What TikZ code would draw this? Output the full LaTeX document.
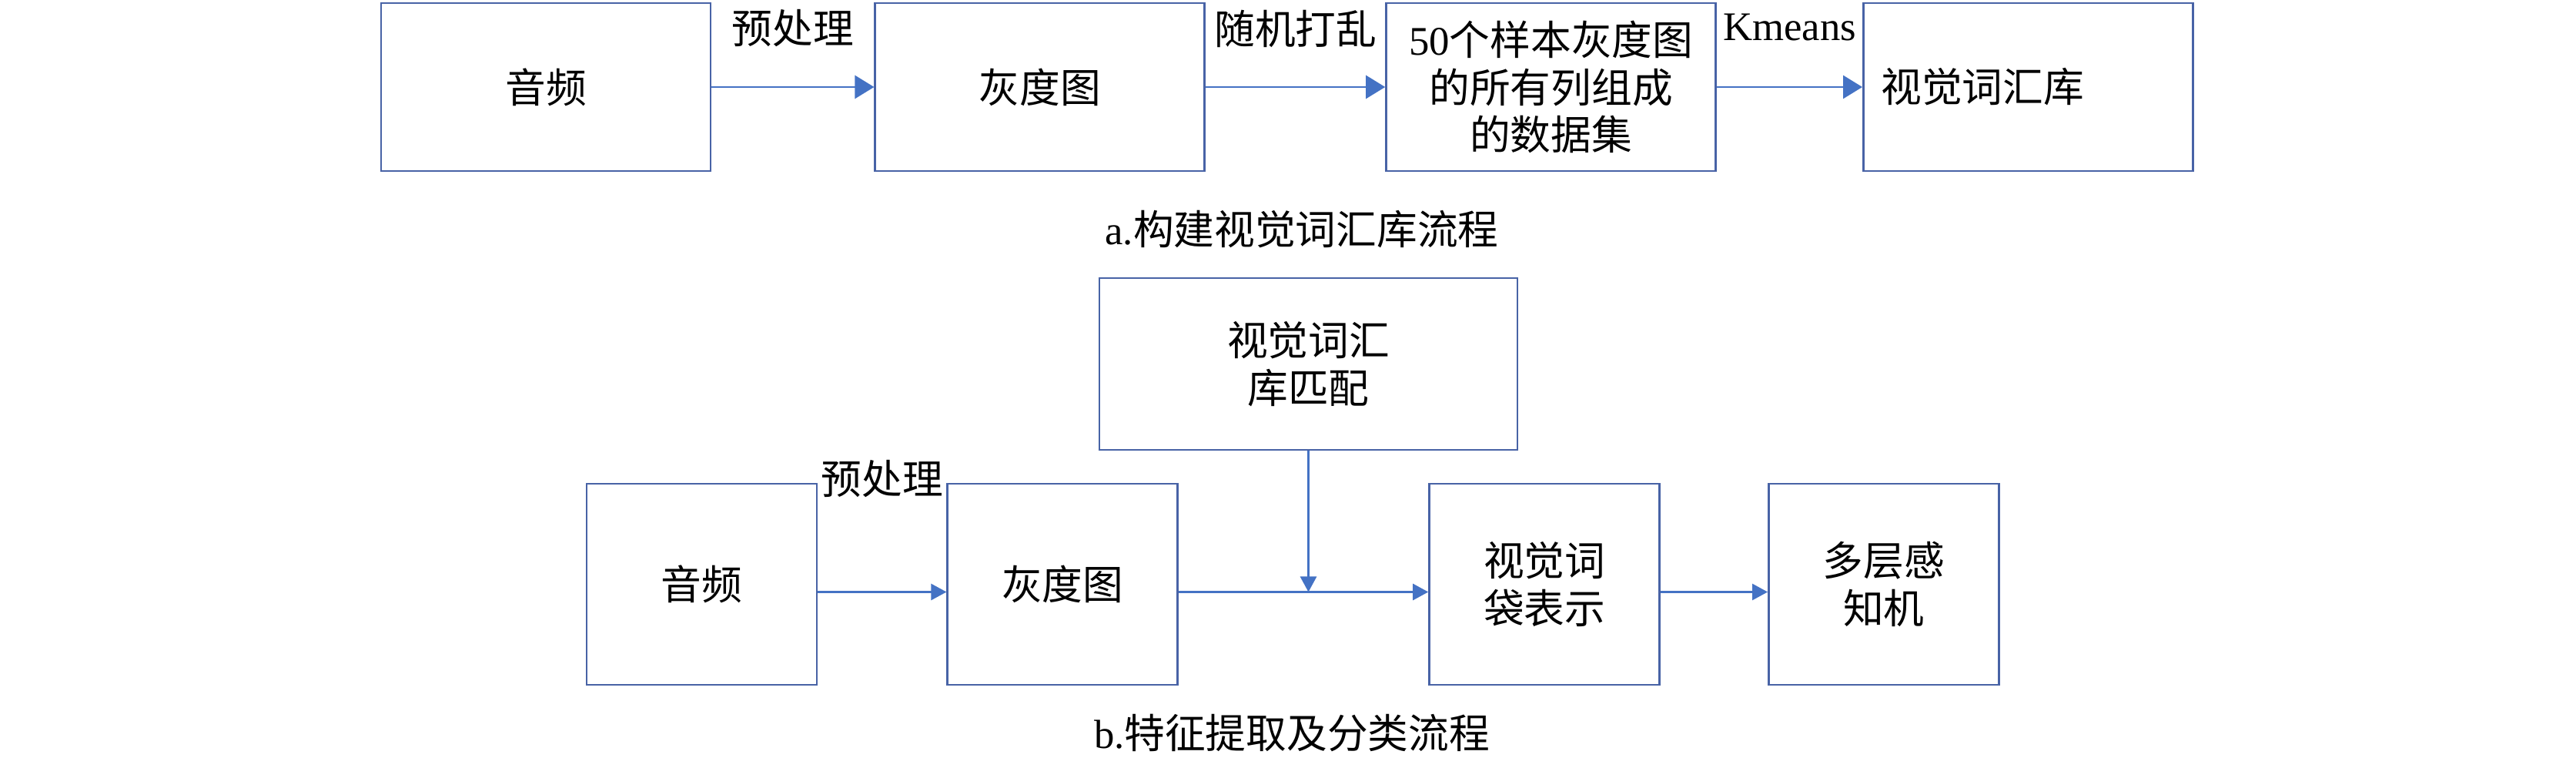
\documentclass[tikz,border=0pt]{standalone}
\usepackage{fontspec}
\setmainfont{Noto Sans CJK SC}
\newfontfamily\latin{Liberation Serif}
\usetikzlibrary{positioning,arrows.meta}
\definecolor{boxblue}{RGB}{72,99,166}
\definecolor{lineblue}{RGB}{68,114,196}
\newcommand{\figfont}{\fontsize{15}{17.6}\selectfont}

\begin{document}
\begin{tikzpicture}[node distance=2cm]
    \tikzset{
        blocka/.style = {rectangle, draw=boxblue, line width=0.8pt, minimum width=4.28cm, minimum height=2.18cm,
                         inner sep=0pt, align=center, font=\figfont},
        blockb/.style = {rectangle, draw=boxblue, line width=0.8pt, minimum width=2.99cm, minimum height=2.61cm,
                         inner sep=0pt, align=center, font=\figfont},
        bigarrow/.style = {draw=lineblue, line width=0.75pt, -{Triangle[length=0.25cm, width=0.3cm]}},
        arrow/.style = {draw=lineblue, line width=0.75pt, -{Triangle[length=0.2cm, width=0.21cm]}},
        lbl/.style = {inner sep=0pt, font=\figfont}
    }
    \useasboundingbox (0,0) rectangle (33.46,-9.97);

    % a. building the vocabulary
    \node (audioa) [blocka] at (7.09,-1.13) {音频};
    \node (graya) [blocka, right=2.11cm of audioa] {灰度图};
    \node (data) [blocka, right=2.33cm of graya] {{\latin 50}个样本灰度图\\的所有列组成\\的数据集};
    \node (vocab) [blocka, right=1.89cm of data, align=left, text width=3.82cm, inner xsep=0.23cm] {视觉词汇库};

    \draw [bigarrow] (audioa) -- node[lbl, yshift=0.76cm] (prea) {预处理} (graya);
    \draw [bigarrow] (graya) -- node[lbl, yshift=0.76cm] (shuffle) {随机打乱} (data);
    \draw [bigarrow] (data) -- node[lbl, yshift=0.775cm] (kmeans) {\latin Kmeans} (vocab);

    \node (capa) [lbl] at (16.91,-2.98) {{\latin a.}构建视觉词汇库流程};

    % b. feature extraction and classification
    \node (match) [blocka, minimum width=5.43cm, minimum height=2.23cm] at (16.995,-4.725) {视觉词汇\\库匹配};
    \node (audiob) [blockb] at (9.115,-7.585) {音频};
    \node (grayb) [blockb, right=1.67cm of audiob] {灰度图};
    \node (bow) [blockb, right=3.24cm of grayb] {视觉词\\袋表示};
    \node (mlp) [blockb, right=1.39cm of bow] {多层感\\知机};

    \coordinate (bowin) at ([yshift=-1mm]bow.west);
    \draw [arrow] ([yshift=-1mm]audiob.east) -- node[lbl, yshift=1.47cm] (preb) {预处理} ([yshift=-1mm]grayb.west);
    \draw [arrow] ([yshift=-1mm]grayb.east) -- (bowin);
    \draw [arrow] (match.south) -- (match.south |- bowin);
    \draw [arrow] ([yshift=-1mm]bow.east) -- ([yshift=-1mm]mlp.west);

    \node (capb) [lbl] at (16.78,-9.52) {{\latin b.}特征提取及分类流程};
\end{tikzpicture}
\end{document}
